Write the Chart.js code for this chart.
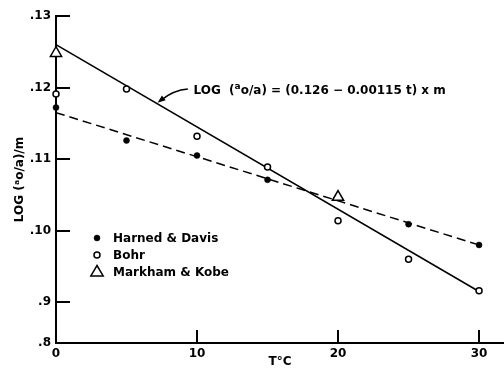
<!DOCTYPE html>
<html><head><meta charset="utf-8">
<script src="https://cdn.jsdelivr.net/npm/chart.js@4.4.1/dist/chart.umd.min.js"></script>
<style>html,body{margin:0;padding:0;background:#fff;}#wrap{width:504px;height:368px;}</style>
</head><body><div id="wrap"><canvas id="c" width="504" height="368"></canvas></div>
<script>
// ---- data ----
const temps = [0, 5, 10, 15, 20, 25, 30];
const harnedDavis = [0.1172, 0.1126, 0.1105, 0.1071, 0.1046, 0.1009, 0.0980];
const bohr = [0.1191, 0.1198, 0.1132, 0.1089, 0.1014, 0.0960, 0.0916];
const markhamT = [0, 20];
const markhamKobe = [0.1248, 0.1047];
const solidT = [0, 30];
const solidFit = [0.126, 0.0915];      // 0.126 - 0.00115 t
const dashedT = [0, 30];
const dashedFit = [0.1165, 0.0980];
const yTickValues = [0.0843, 0.09, 0.10, 0.11, 0.12, 0.13];
const yTickLabels = ['.8', '.9', '.10', '.11', '.12', '.13'];
const xTickValues = [0, 10, 20, 30];
const xTickLabels = ['0', '10', '20', '30'];
const legendLabels = ['Harned & Davis', 'Bohr', 'Markham & Kobe'];
const eqnPos = [9.75, 0.1195];    // where the equation text starts (t, value)
const arrowFrom = [9.35, 0.1198];
const arrowTo = 7.2;              // t on solid fit line

Chart.defaults.font.family = '"DejaVu Sans", sans-serif';
Chart.defaults.color = '#000';
const TXT = 'bold 12px "DejaVu Sans"';

const toXY = (xs, ys) => xs.map((x, i) => ({x, y: ys[i]}));

const inwardTicks = {
  id: 'inwardTicks',
  afterDraw(chart) {
    const {ctx, chartArea: a, scales: {x, y}} = chart;
    ctx.save(); ctx.strokeStyle = '#000'; ctx.lineWidth = 2;
    yTickValues.slice(1).forEach(v => {
      const py = Math.round(y.getPixelForValue(v));
      ctx.beginPath(); ctx.moveTo(a.left, py); ctx.lineTo(a.left + 14, py); ctx.stroke();
    });
    xTickValues.slice(1).forEach(v => {
      const px = Math.round(x.getPixelForValue(v));
      ctx.beginPath(); ctx.moveTo(px, a.bottom); ctx.lineTo(px, a.bottom - 13); ctx.stroke();
    });
    ctx.restore();
  }
};

function marker(ctx, style, r, fill, bw, cx, cy) {
  ctx.beginPath();
  if (style === 'triangle') {
    ctx.moveTo(cx, cy - r); ctx.lineTo(cx + r * 0.95, cy + r * 0.6); ctx.lineTo(cx - r * 0.95, cy + r * 0.6); ctx.closePath();
  } else {
    ctx.arc(cx, cy, r, 0, Math.PI * 2);
  }
  ctx.fillStyle = fill; ctx.fill();
  ctx.lineWidth = bw; ctx.strokeStyle = '#000'; if (bw > 0) ctx.stroke();
}

const insetLegend = {
  id: 'insetLegend',
  afterDraw(chart) {
    const {ctx, chartArea: a} = chart;
    const items = chart.data.datasets.filter(d => d.inLegend)
      .sort((p, q) => legendLabels.indexOf(p.label) - legendLabels.indexOf(q.label));
    ctx.save();
    ctx.font = TXT; ctx.textBaseline = 'middle'; ctx.textAlign = 'left';
    items.forEach((d, i) => {
      const my = a.top + 222 + i * 17;
      marker(ctx, d.pointStyle, d.pointRadius, d.pointBackgroundColor, d.pointBorderWidth, a.left + 41, my);
      ctx.fillStyle = '#000';
      ctx.fillText(d.label, a.left + 57, my + 1);
    });
    ctx.restore();
  }
};

const equation = {
  id: 'equation',
  afterDraw(chart) {
    const {ctx, scales: {x, y}} = chart;
    const tx = x.getPixelForValue(eqnPos[0]), ty = y.getPixelForValue(eqnPos[1]);
    ctx.save(); ctx.fillStyle = '#000'; ctx.textBaseline = 'middle'; ctx.textAlign = 'left';
    ctx.font = TXT;
    let cx = tx;
    const p1 = 'LOG  (';
    ctx.fillText(p1, cx, ty); cx += ctx.measureText(p1).width;
    ctx.font = 'bold 9px "DejaVu Sans"';
    ctx.fillText('a', cx, ty - 4); cx += ctx.measureText('a').width;
    ctx.font = TXT;
    ctx.fillText('o/a) = (0.126 \u2212 0.00115 t) x m', cx, ty);
    // arrow
    const sx = x.getPixelForValue(arrowFrom[0]), sy = y.getPixelForValue(arrowFrom[1]);
    const ex = x.getPixelForValue(arrowTo), ey = y.getPixelForValue(0.126 - 0.00115 * arrowTo) - 1;
    const qx = sx - 14, qy = sy + 1;
    ctx.strokeStyle = '#000'; ctx.lineWidth = 1.5;
    ctx.beginPath(); ctx.moveTo(sx, sy); ctx.quadraticCurveTo(qx, qy, ex + 4, ey - 3); ctx.stroke();
    const ang = Math.atan2(ey - qy, ex - qx);
    ctx.beginPath();
    ctx.moveTo(ex, ey);
    ctx.lineTo(ex - 8 * Math.cos(ang) + 3 * Math.sin(ang), ey - 8 * Math.sin(ang) - 3 * Math.cos(ang));
    ctx.lineTo(ex - 8 * Math.cos(ang) - 3 * Math.sin(ang), ey - 8 * Math.sin(ang) + 3 * Math.cos(ang));
    ctx.closePath(); ctx.fill();
    ctx.restore();
  }
};

new Chart(document.getElementById('c'), {
  type: 'scatter',
  data: {
    datasets: [
      {label: legendLabels[2], data: toXY(markhamT, markhamKobe), inLegend: true, pointStyle: 'triangle',
       pointRadius: 6.5, pointBackgroundColor: '#fff', pointBorderColor: '#000', pointBorderWidth: 1.5, clip: false},
      {label: legendLabels[1], data: toXY(temps, bohr), inLegend: true, pointStyle: 'circle',
       pointRadius: 3, pointBackgroundColor: '#fff', pointBorderColor: '#000', pointBorderWidth: 1.5, clip: false},
      {label: legendLabels[0], data: toXY(temps, harnedDavis), inLegend: true, pointStyle: 'circle',
       pointRadius: 3, pointBackgroundColor: '#000', pointBorderColor: '#000', pointBorderWidth: 0.5, clip: false},
      {label: 'fit', data: toXY(solidT, solidFit), showLine: true, pointRadius: 0, borderColor: '#000', borderWidth: 1.5},
      {label: 'fit2', data: toXY(dashedT, dashedFit), showLine: true, pointRadius: 0, borderColor: '#000', borderWidth: 1.5, borderDash: [9, 5]}
    ]
  },
  options: {
    responsive: false, animation: false, devicePixelRatio: 1,
    layout: {autoPadding: false, padding: {top: 16, right: 0, left: 0, bottom: 0}},
    plugins: {legend: {display: false}, tooltip: {enabled: false}},
    scales: {
      x: {
        type: 'linear', min: 0, max: 31.77,
        afterFit: s => { s.height = 25; s.paddingRight = 0; s.paddingLeft = 0; },
        afterBuildTicks: s => { s.ticks = xTickValues.map(v => ({value: v})); },
        ticks: {callback: (v, i) => xTickLabels[i], font: {size: 12, weight: 'bold'}, padding: 4, maxRotation: 0, autoSkip: false},
        grid: {display: true, drawOnChartArea: false, drawTicks: false},
        border: {display: true, color: '#000', width: 2},
        title: {display: true, text: 'T\u00b0C', font: {size: 12, weight: 'bold', lineHeight: 1.0}, padding: {top: 0, bottom: 0}}
      },
      y: {
        type: 'linear', min: yTickValues[0], max: 0.13,
        afterFit: s => { s.width = 56; s.paddingTop = 0; s.paddingBottom = 0; },
        afterBuildTicks: s => { s.ticks = yTickValues.map(v => ({value: v})); },
        ticks: {callback: (v, i) => yTickLabels[i], font: {size: 12, weight: 'bold'}, padding: 5, autoSkip: false},
        grid: {display: true, drawOnChartArea: false, drawTicks: false},
        border: {display: true, color: '#000', width: 2},
        title: {display: true, text: 'LOG (\u1d43o/a)/m', font: {size: 12, weight: 'bold'}, padding: {top: 13, bottom: 0}}
      }
    }
  },
  plugins: [inwardTicks, insetLegend, equation]
});
</script></body></html>
